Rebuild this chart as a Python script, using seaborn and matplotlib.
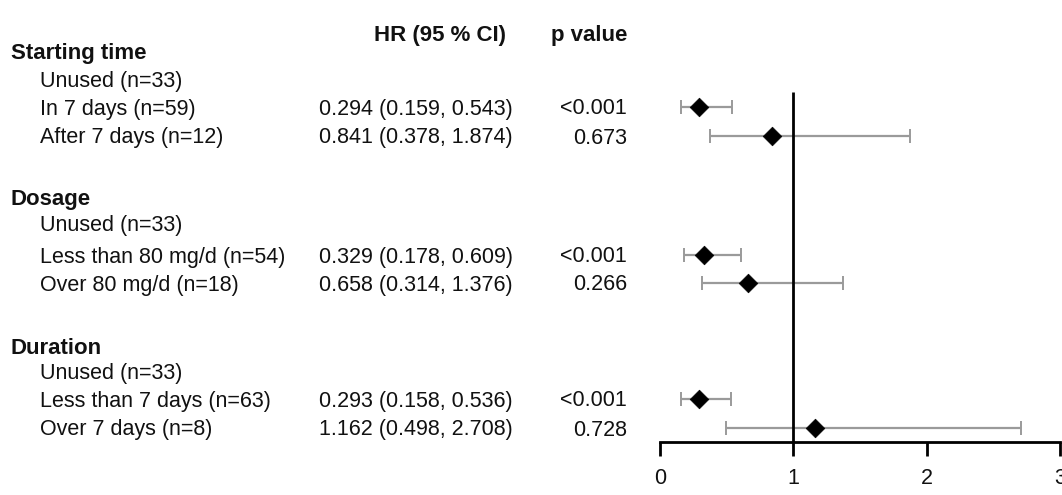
import matplotlib
matplotlib.use("Agg")
import matplotlib.pyplot as plt
import seaborn as sns
import pandas as pd

# ---- data -------------------------------------------------------------
groups = ["Starting time", "Dosage", "Duration"]
sub_labels = [
    ["Unused (n=33)", "In 7 days (n=59)", "After 7 days (n=12)"],
    ["Unused (n=33)", "Less than 80 mg/d (n=54)", "Over 80 mg/d (n=18)"],
    ["Unused (n=33)", "Less than 7 days (n=63)", "Over 7 days (n=8)"],
]
hr = [[None, 0.294, 0.841], [None, 0.329, 0.658], [None, 0.293, 1.162]]
ci_low = [[None, 0.159, 0.378], [None, 0.178, 0.314], [None, 0.158, 0.498]]
ci_high = [[None, 0.543, 1.874], [None, 0.609, 1.376], [None, 0.536, 2.708]]
p_values = [[None, "<0.001", "0.673"], [None, "<0.001", "0.266"], [None, "<0.001", "0.728"]]
x_ticks = [0, 1, 2, 3]

# ---- layout (pixel rows of the table) ---------------------------------
W, H = 1062, 495
header_y = 33
group_y = [51, 198, 346]
row_y = [[80, 107, 136], [224, 255, 283], [371, 399, 428]]
axis_y = 442
ref_top = 92
half_cap = 7.5  # half the cap height, so rows sit on a common baseline

sns.set_theme(style="white")
plt.rcParams["font.family"] = ["Liberation Sans", "DejaVu Sans"]
text_color = "#111111"
fs = 15.5
fs_head = 16

fig = plt.figure(figsize=(W / 100, H / 100), dpi=100)
fig.patch.set_facecolor("white")

tab = fig.add_axes([0, 0, 1, 1])
tab.set_xlim(0, W)
tab.set_ylim(H, 0)
tab.axis("off")


def put(x, y, s, ha="left", bold=False, size=fs):
    tab.text(x, y + half_cap, s, ha=ha, va="baseline", fontsize=size,
             fontweight="bold" if bold else "normal", color=text_color)


put(506, header_y, "HR (95 % CI)", ha="right", bold=True, size=fs_head)
put(627, header_y, "p value", ha="right", bold=True, size=fs_head)

records = []
for g, name in enumerate(groups):
    put(11, group_y[g], name, bold=True, size=fs_head)
    for i, lab in enumerate(sub_labels[g]):
        y = row_y[g][i]
        put(40, y, lab)
        if hr[g][i] is not None:
            put(513, y, f"{hr[g][i]:.3f} ({ci_low[g][i]:.3f}, {ci_high[g][i]:.3f})", ha="right")
            put(627, y, p_values[g][i], ha="right")
            records.append({"hr": hr[g][i], "lo": ci_low[g][i],
                            "hi": ci_high[g][i], "y": y})

df = pd.DataFrame(records)

# ---- forest panel -----------------------------------------------------
fax = fig.add_axes([660 / W, 0, 400 / W, 1])
fax.patch.set_alpha(0)
fax.set_xlim(0, 3)
fax.set_ylim(H, 0)

fax.errorbar(df["hr"], df["y"],
             xerr=[df["hr"] - df["lo"], df["hi"] - df["hr"]],
             fmt="none", ecolor="#9a9a9a", elinewidth=1.6, capsize=5,
             capthick=1.4, zorder=2)
fax.vlines(1, ref_top, axis_y, color="black", linewidth=2, zorder=3)
sns.scatterplot(data=df, x="hr", y="y", marker="D", s=90, color="black",
                edgecolor="black", linewidth=0.5, ax=fax, zorder=4, legend=False)

for side in ["left", "top", "right"]:
    fax.spines[side].set_visible(False)
fax.spines["bottom"].set_position(("data", axis_y))
fax.spines["bottom"].set_linewidth(2)
fax.spines["bottom"].set_color("black")
fax.set_yticks([])
fax.set_xticks(x_ticks)
fax.set_xticklabels([str(t) for t in x_ticks])
fax.tick_params(axis="x", direction="out", length=10, width=2, color="black",
                labelsize=fs, labelcolor=text_color, pad=9, bottom=True)
fax.set_xlabel("")
fax.set_ylabel("")

fig.savefig("out.png", dpi=100, facecolor="white")
